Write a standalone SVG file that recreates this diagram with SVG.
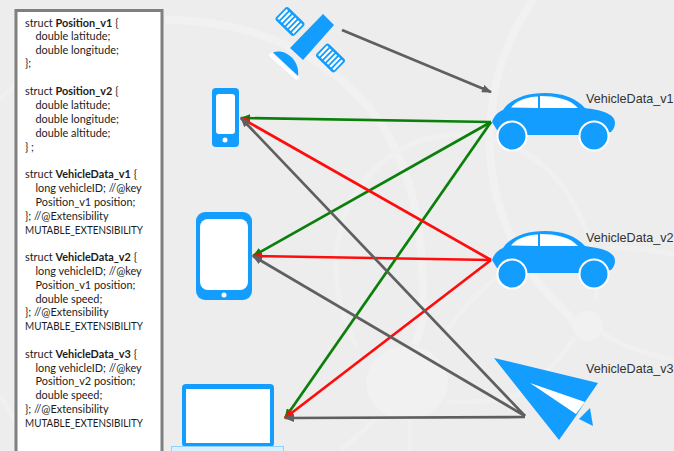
<svg xmlns="http://www.w3.org/2000/svg" width="674" height="451" viewBox="0 0 674 451">
<defs>
<style>
.bg{fill:none;stroke:#f1f1f1;stroke-width:8}
.bt{fill:none;stroke:#f0f0f0;stroke-width:5}
.blue{fill:#129dff}
.w{fill:#fff}
.st{stroke:#fff;stroke-width:2.200;fill:none}
.code{font-family:"Lato","Open Sans","Liberation Sans",sans-serif;font-size:10.9px;fill:#1c1c1c}
.code tspan{font-weight:700}
.lab{font-family:"Liberation Sans",Arial,sans-serif;font-size:12.6px;fill:#333}
.c{fill:none;stroke-width:2.700}
.gr{stroke:#0a800a}.rd{stroke:#ff0d0d}.gy{stroke:#5f5f5f}
</style>
<marker id="ag" markerWidth="10" markerHeight="8" refX="9" refY="4" orient="auto" markerUnits="userSpaceOnUse" viewBox="0 0 10 8"><path d="M0 0L10 4L0 8Z" fill="#0a800a"/></marker>
<marker id="ar" markerWidth="10" markerHeight="8" refX="9" refY="4" orient="auto" markerUnits="userSpaceOnUse" viewBox="0 0 10 8"><path d="M0 0L10 4L0 8Z" fill="#ff0d0d"/></marker>
<marker id="ay" markerWidth="10" markerHeight="8" refX="9" refY="4" orient="auto" markerUnits="userSpaceOnUse" viewBox="0 0 10 8"><path d="M0 0L10 4L0 8Z" fill="#5f5f5f"/></marker>
<g id="carshape">
<path class="blue" d="M492 122C494 116 498 112 503 110C510 99 526 93 545 93C562 93 576 98 585 108C600 110 615 113 615 123C615 127 613 130 611 132L580 135L525 135L497 130Z"/>
<path class="w" d="M511 107.500C516 101 526 97 538 96.500L538 108Z"/>
<path class="w" d="M540 96C556 96 570 99 578 108L540 108Z"/>
<circle class="blue" cx="512" cy="136" r="14.500" stroke="#fff" stroke-width="2"/>
<circle class="blue" cx="594" cy="136" r="14.500" stroke="#fff" stroke-width="2"/>
</g>
</defs>
<rect width="674" height="451" fill="#ededed"/>
<g id="background">
<path class="bg" d="M165 20C260 20 340 60 385 130C415 180 425 240 423 320L415 345"/>
<path class="bg" d="M533 0C505 40 488 90 490 150C492 200 510 245 540 285L580 328"/>
<path class="bt" d="M357 347C320 280 330 190 400 150C435 130 480 130 517 148C570 175 600 240 596 300"/>
<path class="bt" d="M447 330C465 305 480 290 497 277"/>
<path class="bt" d="M610 247C630 248 650 250 674 254"/>
<path class="bt" d="M575 337C560 360 535 385 513 397C490 402 470 402 447 402"/>
<path class="bt" d="M603 333C625 348 650 355 674 360"/>
<path class="bt" d="M410 420V451M377 417C365 430 352 440 340 451"/>
<path class="bt" d="M0 100L15 85M0 395L15 420"/>
<circle cx="588" cy="326" r="15" fill="#f1f1f1"/>
<ellipse cx="407" cy="383" rx="41" ry="37" fill="#f1f1f1"/>
</g>
<g id="panel">
<rect x="16" y="10.500" width="146" height="442" fill="#fff" stroke="#7f7f7f" stroke-width="3"/>
<text class="code" x="25" y="27">struct <tspan>Position_v1</tspan> {</text>
<text class="code" x="35.500" y="40">double latitude;</text>
<text class="code" x="35.500" y="54">double longitude;</text>
<text class="code" x="25" y="67">};</text>
<text class="code" x="25" y="95">struct <tspan>Position_v2</tspan> {</text>
<text class="code" x="35.500" y="109">double latitude;</text>
<text class="code" x="35.500" y="123">double longitude;</text>
<text class="code" x="35.500" y="137">double altitude;</text>
<text class="code" x="25" y="151">} ;</text>
<text class="code" x="25" y="178">struct <tspan>VehicleData_v1</tspan> {</text>
<text class="code" x="35.500" y="192">long vehicleID; //@key</text>
<text class="code" x="35.500" y="206">Position_v1 position;</text>
<text class="code" x="25" y="220">}; //@Extensibility</text>
<text class="code" x="25" y="234" textLength="118" lengthAdjust="spacingAndGlyphs">MUTABLE_EXTENSIBILITY</text>
<text class="code" x="25" y="261">struct <tspan>VehicleData_v2</tspan> {</text>
<text class="code" x="35.500" y="275">long vehicleID; //@key</text>
<text class="code" x="35.500" y="289">Position_v1 position;</text>
<text class="code" x="35.500" y="303">double speed;</text>
<text class="code" x="25" y="316">}; //@Extensibility</text>
<text class="code" x="25" y="330" textLength="118" lengthAdjust="spacingAndGlyphs">MUTABLE_EXTENSIBILITY</text>
<text class="code" x="25" y="358">struct <tspan>VehicleData_v3</tspan> {</text>
<text class="code" x="35.500" y="372">long vehicleID; //@key</text>
<text class="code" x="35.500" y="385">Position_v2 position;</text>
<text class="code" x="35.500" y="399">double speed;</text>
<text class="code" x="25" y="413">}; //@Extensibility</text>
<text class="code" x="25" y="427" textLength="118" lengthAdjust="spacingAndGlyphs">MUTABLE_EXTENSIBILITY</text>
</g>
<g id="satellite">
<path class="blue" d="M323 14L334 25L303 60L290 48Z"/>
<g transform="rotate(44 290 21.500)"><rect x="277" y="12.500" width="26" height="18" rx="3" class="blue"/><path class="st" d="M280 15V28M284 15V28M288 15V28M292 15V28M296 15V28M300 15V28"/></g>
<g transform="rotate(44 330.500 58)"><rect x="317.500" y="49" width="26" height="18" rx="3" class="blue"/><path class="st" d="M320.500 51.500V64.500M324.500 51.500V64.500M328.500 51.500V64.500M332.500 51.500V64.500M336.500 51.500V64.500M340.500 51.500V64.500"/></g>
<path class="blue" d="M273 52.500C285 48 300 60 298 76Z"/>
<path d="M270 54L298 79" stroke="#fff" stroke-width="4"/>
</g>
<g id="phone">
<rect class="blue" x="212" y="88" width="27" height="59" rx="4"/>
<rect class="w" x="216" y="94" width="19" height="40" rx="3"/>
<circle class="w" cx="225" cy="140" r="2.500"/>
</g>
<g id="tablet">
<rect class="blue" x="196" y="212" width="56" height="88" rx="9"/>
<rect class="w" x="200" y="219" width="48" height="71" rx="8"/>
<circle class="w" cx="224" cy="295" r="2.500"/>
</g>
<g id="laptop">
<rect class="blue" x="182" y="384" width="92" height="63" rx="4"/>
<rect class="w" x="186" y="389" width="84" height="54"/>
<rect x="171.500" y="446.500" width="112" height="5" fill="#d8f0ff" stroke="#8fd2ff"/>
</g>
<g id="car1"><use href="#carshape"/><text class="lab" x="586" y="103">VehicleData_v1</text></g>
<g id="car2"><use href="#carshape" y="138"/><text class="lab" x="586" y="242">VehicleData_v2</text></g>
<g id="plane">
<path class="blue" d="M494 358L598 383L585 402L576 416L559 440Z"/>
<path class="w" d="M530 383L585 402L576 414Z"/>
<path class="blue" d="M590 408L593 426L579 419Z"/>
<text class="lab" x="586" y="373">VehicleData_v3</text>
</g>
<g id="connectors">
<path class="c gy" marker-end="url(#ay)" d="M342 30L491 92"/>
<path class="c gr" marker-end="url(#ag)" d="M491 122L241 118"/>
<path class="c gr" marker-end="url(#ag)" d="M491 122L253 256"/>
<path class="c gr" marker-end="url(#ag)" d="M491 122L285 418"/>
<path class="c rd" marker-end="url(#ar)" d="M491 260L241 118"/>
<path class="c rd" marker-end="url(#ar)" d="M491 260L253 256"/>
<path class="c rd" marker-end="url(#ar)" d="M491 260L285 418"/>
<path class="c gy" marker-end="url(#ay)" d="M525 416L241 118"/>
<path class="c gy" marker-end="url(#ay)" d="M525 416L253 256"/>
<path class="c gy" marker-end="url(#ay)" d="M525 417L285 418"/>
</g>
</svg>
